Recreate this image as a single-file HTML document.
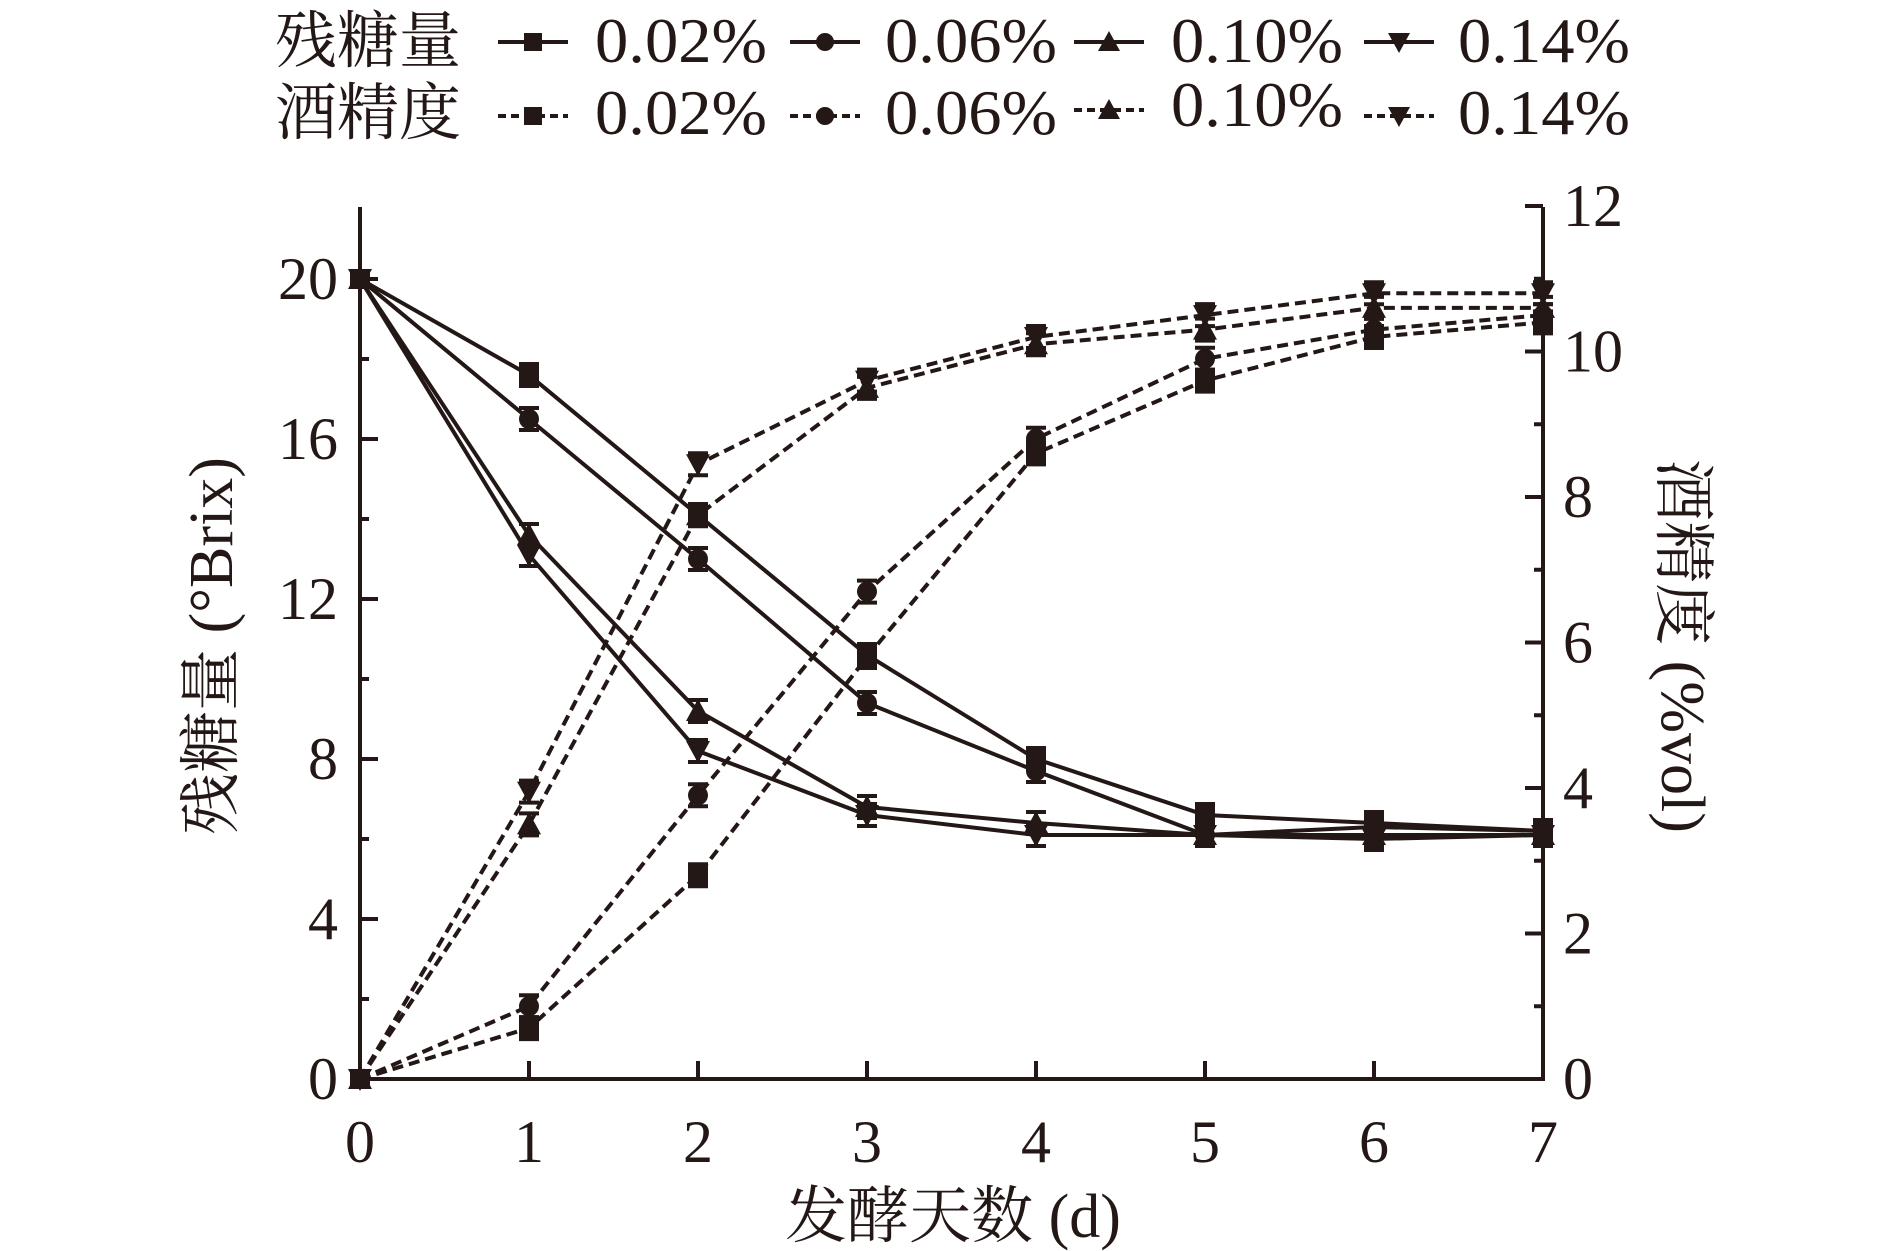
<!DOCTYPE html>
<html><head><meta charset="utf-8"><style>
html,body{margin:0;padding:0;background:#fff}
svg{display:block}
text{font-family:"Liberation Serif","Noto Serif CJK SC",serif;fill:#231815}
</style></head><body>
<svg id="s" width="1890" height="1251" viewBox="0 0 1890 1251" xmlns="http://www.w3.org/2000/svg"></svg>
<script>
const s=document.getElementById('s');let h='';
const C='#231815';
const X=d=>360+169*d, YL=v=>1079-40*v, YR=v=>1079-72.75*v;
h+=`<g stroke="${C}" stroke-width="4" fill="none">`;
h+=`<line x1="${X(0)}" y1="207" x2="${X(0)}" y2="1081"/>`;
h+=`<line x1="${X(7)}" y1="207" x2="${X(7)}" y2="1081"/>`;
h+=`<line x1="${X(0)-2}" y1="1079" x2="${X(7)+2}" y2="1079"/>`;
for(let v=0;v<=20;v+=2){let y=YL(v);h+=`<line x1="${X(0)}" y1="${y}" x2="${X(0)+(v%4==0?18:9)}" y2="${y}"/>`;}
for(let v=0;v<=12;v+=1){let y=YR(v);h+=`<line x1="${X(7)}" y1="${y}" x2="${X(7)-(v%2==0?18:9)}" y2="${y}"/>`;}
for(let d=1;d<7;d++)h+=`<line x1="${X(d)}" y1="1079" x2="${X(d)}" y2="1061"/>`;
h+=`</g>`;
const tf='font-size="60" transform-origin="0 0"';
for(let v=0;v<=20;v+=4)h+=`<text x="338" y="${YL(v)+20}" font-size="60" text-anchor="end">${v}</text>`;
for(let v=0;v<=12;v+=2)h+=`<text x="1563" y="${YR(v)+20}" font-size="60">${v}</text>`;
for(let d=0;d<=7;d++)h+=`<text x="${X(d)}" y="1162" font-size="60" text-anchor="middle">${d}</text>`;
h+=`<text x="953" y="1237" font-size="62" text-anchor="middle">发酵天数 (d)</text>`;
h+=`<text transform="translate(232,646) rotate(-90)" font-size="62" text-anchor="middle">残糖量 (°Brix)</text>`;
h+=`<text transform="translate(1662,646) rotate(90)" font-size="62" text-anchor="middle">酒精度 (%vol)</text>`;
function mk(t,x,y,r){r=r||10;
 if(t==0)return `<rect x="${x-r}" y="${y-r}" width="${2*r}" height="${2*r}" fill="${C}"/>`;
 if(t==1)return `<circle cx="${x}" cy="${y}" r="${r}" fill="${C}"/>`;
 if(t==2)return `<polygon points="${x},${y-r-2} ${x-r-2},${y+r} ${x+r+2},${y+r}" fill="${C}"/>`;
 return `<polygon points="${x},${y+r+2} ${x-r-2},${y-r} ${x+r+2},${y-r}" fill="${C}"/>`;}
const sug=[[20,17.6,14.1,10.6,8.0,6.6,6.4,6.2],[20,16.5,13.0,9.4,7.7,6.1,6.3,6.2],[20,13.6,9.2,6.8,6.4,6.1,6.1,6.1],[20,13.1,8.2,6.6,6.1,6.1,6.0,6.1]];
const alc=[[0,0.7,2.8,5.8,8.6,9.6,10.2,10.4],[0,1.0,3.9,6.7,8.8,9.9,10.3,10.5],[0,3.5,7.75,9.5,10.1,10.3,10.6,10.6],[0,3.95,8.45,9.6,10.2,10.5,10.8,10.8]];
function series(data,Y,dash,t){let p=data.map((v,i)=>`${X(i)},${Y(v)}`).join(' ');
 let g=`<polyline points="${p}" fill="none" stroke="${C}" stroke-width="4" ${dash?'stroke-dasharray="11 6"':''}/>`;
 data.forEach((v,i)=>{let x=X(i),y=Y(v);if(i>0)g+=`<path d="M${x-10} ${y-11}h20M${x-10} ${y+11}h20M${x} ${y-11}v22" stroke="${C}" stroke-width="4"/>`;g+=mk(t,x,y);});
 return g;}
for(let t=0;t<4;t++)h+=series(sug[t],YL,false,t);
for(let t=0;t<4;t++)h+=series(alc[t],YR,true,t);
h+=`<text x="275" y="62" font-size="62">残糖量</text><text x="275" y="134" font-size="62">酒精度</text>`;
const lx=[498,790,1074,1364],tx=[595,885,1171,1458],lab=['0.02%','0.06%','0.10%','0.14%'];
for(let t=0;t<4;t++){
 h+=`<line x1="${lx[t]}" y1="42" x2="${lx[t]+70}" y2="42" stroke="${C}" stroke-width="4"/>`+mk(t,lx[t]+35,42,9);
 h+=`<text x="${tx[t]}" y="62" font-size="64" textLength="172" lengthAdjust="spacingAndGlyphs">${lab[t]}</text>`;
 let y2=t==2?110:116;
 h+=`<line x1="${lx[t]}" y1="${y2}" x2="${lx[t]+70}" y2="${y2}" stroke="${C}" stroke-width="4" stroke-dasharray="8 5"/>`+mk(t,lx[t]+35,y2,9);
 h+=`<text x="${tx[t]}" y="${t==2?126:134}" font-size="64" textLength="172" lengthAdjust="spacingAndGlyphs">${lab[t]}</text>`;
}
s.innerHTML=h;
</script>
</body></html>
